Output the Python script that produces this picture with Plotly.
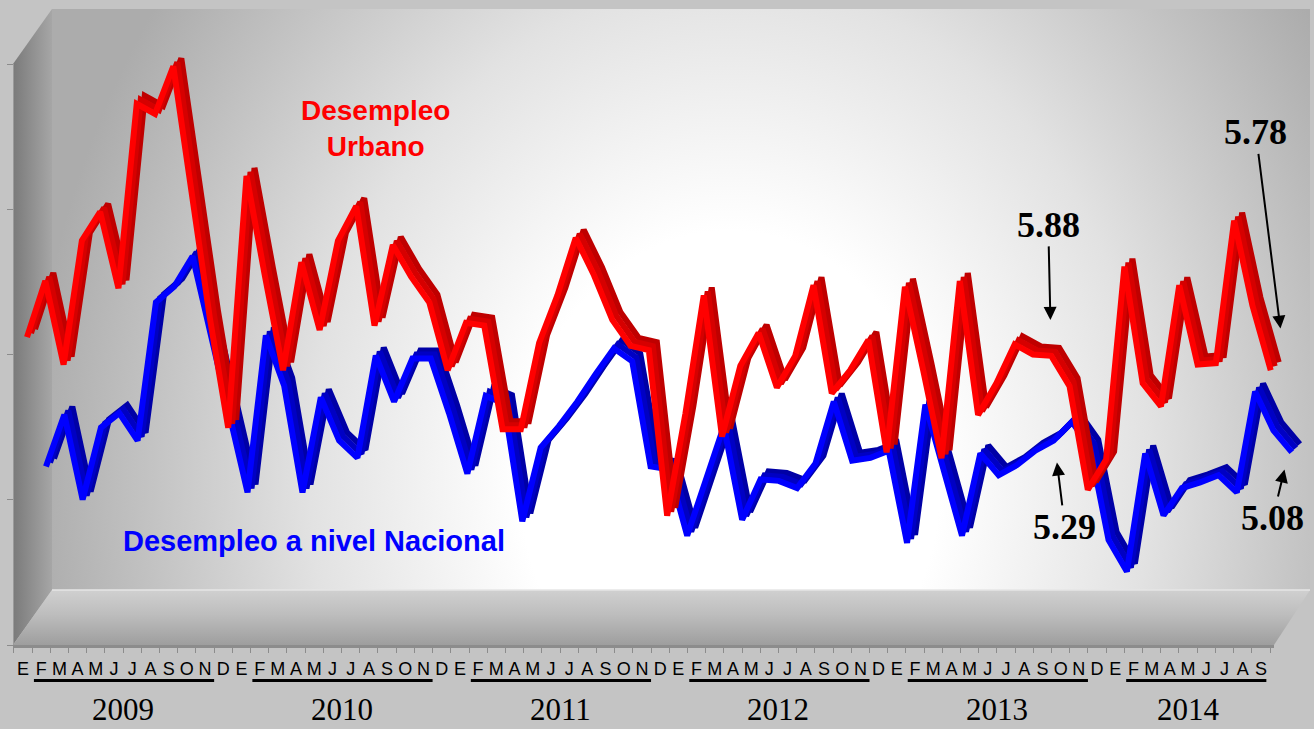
import base64
import plotly.graph_objects as go

# ---------------- data ----------------
years = [2009, 2010, 2011, 2012, 2013, 2014]
month_letters = ["E", "F", "M", "A", "M", "J", "J", "A", "S", "O", "N", "D"]

desempleo_urbano = [
    6.01, 6.40, 5.82, 6.68, 6.88, 6.35, 7.63, 7.56, 7.89, 7.01, 6.14, 5.38,   # 2009
    7.13, 6.44, 5.78, 6.53, 6.06, 6.68, 6.92, 6.09, 6.65, 6.43, 6.25, 5.78,   # 2010
    6.11, 6.09, 5.37, 5.37, 5.97, 6.30, 6.70, 6.44, 6.13, 5.95, 5.92, 4.77,   # 2011
    5.48, 6.30, 5.32, 5.81, 6.04, 5.66, 5.88, 6.37, 5.62, 5.78, 5.99, 5.21,   # 2012
    6.36, 5.78, 5.17, 6.40, 5.47, 5.69, 5.96, 5.89, 5.88, 5.67, 4.95, 5.16,   # 2013
    6.50, 5.69, 5.53, 6.37, 5.82, 5.83, 6.82, 6.23, 5.78,                     # 2014
]
desempleo_nacional = [
    4.98, 5.34, 4.75, 5.25, 5.35, 5.16, 6.12, 6.23, 6.44, 5.90, 5.32, 4.80,   # 2009
    5.89, 5.54, 4.80, 5.46, 5.16, 5.04, 5.75, 5.43, 5.73, 5.73, 5.35, 4.93,   # 2010
    5.47, 5.42, 4.60, 5.11, 5.26, 5.43, 5.62, 5.80, 5.71, 4.98, 4.96, 4.50,   # 2011
    4.88, 5.26, 4.61, 4.89, 4.88, 4.83, 5.00, 5.43, 5.02, 5.04, 5.09, 4.45,   # 2012
    5.41, 4.96, 4.50, 5.07, 4.92, 4.99, 5.09, 5.16, 5.29, 5.11, 4.47, 4.25,   # 2013
    5.07, 4.64, 4.83, 4.87, 4.92, 4.80, 5.50, 5.23, 5.08,                     # 2014
]

n = len(desempleo_urbano)
month_idx = list(range(n))
tick_text = [month_letters[i % 12] for i in month_idx]
year_of = [years[i // 12] for i in month_idx]
callout_months = [56, 68]  # Sep 2013, Sep 2014

# ---------------- geometry helpers (library scales) ----------------
W, H = 1314, 729
PPU = 144.0  # pixels per percentage point


def x_range(px0, step, d0=0.0, d1=1.0):
    return [(d0 * W - px0) / step, (d1 * W - px0) / step]


def y_range(py_ref, v_ref):
    return [v_ref - (H - py_ref) / PPU, v_ref + py_ref / PPU]


# ---------------- background (3D wall look) ----------------
svg = f"""<svg xmlns="http://www.w3.org/2000/svg" width="{W}" height="{H}" viewBox="0 0 {W} {H}">
<defs>
<radialGradient id="wall" gradientUnits="userSpaceOnUse" cx="0" cy="0" r="1" gradientTransform="translate(730 480) scale(700 830)">
<stop offset="0" stop-color="#ffffff"/>
<stop offset="0.3" stop-color="#ffffff"/>
<stop offset="0.6" stop-color="#e2e2e2"/>
<stop offset="0.85" stop-color="#c0c0c0"/>
<stop offset="1" stop-color="#acacac"/>
</radialGradient>
<linearGradient id="side" x1="0" y1="0" x2="1" y2="0">
<stop offset="0" stop-color="#7a7a7a"/>
<stop offset="1" stop-color="#a6a6a6"/>
</linearGradient>
<linearGradient id="floor" x1="0" y1="0" x2="0" y2="1">
<stop offset="0" stop-color="#d0d0d0"/>
<stop offset="0.45" stop-color="#bdbdbd"/>
<stop offset="1" stop-color="#9e9e9e"/>
</linearGradient>
</defs>
<rect x="0" y="0" width="{W}" height="{H}" fill="#c4c4c4"/>
<polygon points="52,9 1310,9 1310,590 52,590" fill="url(#wall)"/>
<polygon points="13,64 52,9 52,590 13,645" fill="url(#side)"/>
<polygon points="52,590 1310,590 1274,645 13,645" fill="url(#floor)"/>
<line x1="52" y1="590" x2="1310" y2="590" stroke="#e6e6e6" stroke-width="1.5"/>
<polygon points="13,645 1274,645 1274,648 13,648" fill="#8c8c8c"/>
</svg>"""
svg_uri = "data:image/svg+xml;base64," + base64.b64encode(svg.encode()).decode()

fig = go.Figure()

# ribbon layers: (axis number, series, x pixel of first month, step, y pixel of 5.9, color, depth shift)
blue_px0, blue_step, blue_py = 46.0, 18.32, 334.0
red_px0, red_step, red_py = 27.0, 18.29, 353.0
layers = [
    (1, desempleo_nacional, blue_px0, blue_step, blue_py, "#0000a6", 8.0),
    (2, desempleo_nacional, blue_px0, blue_step, blue_py, "#0000c4", 4.0),
    (3, desempleo_nacional, blue_px0, blue_step, blue_py, "#0000ff", 0.0),
    (4, desempleo_urbano, red_px0, red_step, red_py, "#bf0000", 8.0),
    (5, desempleo_urbano, red_px0, red_step, red_py, "#d60000", 4.0),
    (6, desempleo_urbano, red_px0, red_step, red_py, "#ff0000", 0.0),
]

layout_axes = {}
for k, series, px0, step, py, color, s in layers:
    suffix = "" if k == 1 else str(k)
    fig.add_trace(go.Scatter(
        x=month_idx, y=series, mode="lines",
        line=dict(color=color, width=6),
        xaxis="x" + suffix, yaxis="y" + suffix,
        hoverinfo="skip", showlegend=False,
    ))
    layout_axes["xaxis" + suffix] = dict(
        domain=[0, 1], range=x_range(px0 + s, step), visible=False,
        anchor="y" + suffix, fixedrange=True,
    )
    layout_axes["yaxis" + suffix] = dict(
        domain=[0, 1], range=y_range(py - s, 5.9), visible=False,
        anchor="x" + suffix, fixedrange=True,
    )

# front axis: month letters + tick marks
lab_d0, lab_d1 = 13 / W, 1274 / W
fig.add_trace(go.Scatter(
    x=month_idx, y=desempleo_nacional, mode="lines", line=dict(width=0),
    opacity=0, xaxis="x7", yaxis="y7", hoverinfo="skip", showlegend=False,
))
layout_axes["xaxis7"] = dict(
    domain=[lab_d0, lab_d1],
    range=[-0.549, 68.72],
    anchor="free", position=1 - 647 / H,
    showline=True, linecolor="#8c8c8c", linewidth=1,
    showgrid=False, zeroline=False,
    tickmode="array", tickvals=month_idx, ticktext=tick_text,
    ticks="", ticklabelstandoff=5,
    tickfont=dict(family="Liberation Sans, Arial, sans-serif", size=18, color="#000000"),
    minor=dict(ticks="outside", ticklen=5, tickcolor="#8c8c8c", tickmode="linear",
               tick0=-0.5, dtick=1, showgrid=False),
    fixedrange=True,
)
layout_axes["yaxis7"] = dict(
    domain=[1 - 645 / H, 1 - 64 / H], range=[0, 4],
    anchor="free", position=13 / W, side="left",
    showline=True, linecolor="#9a9a9a", linewidth=1,
    showgrid=False, zeroline=False,
    tickmode="linear", tick0=0, dtick=1, ticks="outside", ticklen=6,
    tickcolor="#8c8c8c", showticklabels=False, fixedrange=True,
)

# year underlines and year labels
shapes = []
annotations = []
for yi, yr in enumerate(years):
    idxs = [i for i in month_idx if year_of[i] == yr]
    start = idxs[0] + 0.6
    end = idxs[-1] - 0.5 if len(idxs) == 12 else idxs[-1] + 0.3
    shapes.append(dict(type="line", xref="x7", yref="paper",
                       x0=start, x1=end, y0=1 - 680.5 / H, y1=1 - 680.5 / H,
                       line=dict(color="#000000", width=3)))
    annotations.append(dict(
        xref="x7", yref="paper", x=(idxs[0] + idxs[-1]) / 2, y=0,
        text=str(yr), showarrow=False, xanchor="center", yanchor="bottom",
        font=dict(family="Liberation Serif, Times New Roman, serif", size=31, color="#000000"),
    ))

# series names
annotations.append(dict(
    xref="paper", yref="paper", x=375 / W, y=1 - 129 / H,
    text="<b>Desempleo<br>Urbano</b>", showarrow=False, align="center",
    xanchor="center", yanchor="middle",
    font=dict(family="Liberation Sans, Arial, sans-serif", size=28, color="#ff0000"),
))
annotations.append(dict(
    xref="paper", yref="paper", x=314 / W, y=1 - 541 / H,
    text="<b>Desempleo a nivel Nacional</b>", showarrow=False,
    xanchor="center", yanchor="middle",
    font=dict(family="Liberation Sans, Arial, sans-serif", size=29, color="#0000ff"),
))

# value callouts
callout_style = [
    # (x axis, y axis, series, month, ax, ay, xshift, standoff)
    ("x6", "y6", desempleo_urbano, callout_months[0], -3, -131, 0, 36),
    ("x6", "y6", desempleo_urbano, callout_months[1], -30, -238, 15, 42),
    ("x3", "y3", desempleo_nacional, callout_months[0], 13, 105, -20, 41),
    ("x3", "y3", desempleo_nacional, callout_months[1], -16, 66, -3, 18),
]
for xr, yr_, series, m, ax, ay, xs, so in callout_style:
    annotations.append(dict(
        xref=xr, yref=yr_, x=m, y=series[m], text=f"<b>{series[m]:.2f}</b>",
        showarrow=True, ax=ax, ay=ay, xshift=xs, standoff=so,
        arrowhead=2, arrowsize=1.3, arrowwidth=2, arrowcolor="#000000",
        font=dict(family="Liberation Serif, Times New Roman, serif", size=36, color="#000000"),
    ))

fig.update_layout(
    width=W, height=H, autosize=False,
    margin=dict(l=0, r=0, t=0, b=0, pad=0),
    paper_bgcolor="#c4c4c4", plot_bgcolor="rgba(0,0,0,0)",
    showlegend=False,
    images=[dict(source=svg_uri, xref="paper", yref="paper", x=0, y=1,
                 sizex=1, sizey=1, xanchor="left", yanchor="top",
                 sizing="stretch", layer="below")],
    shapes=shapes, annotations=annotations,
    **layout_axes,
)

fig.write_html(
    "out.html",
    config={"displayModeBar": False},
    post_script="document.body.style.margin='0';document.body.style.overflow='hidden';",
)
